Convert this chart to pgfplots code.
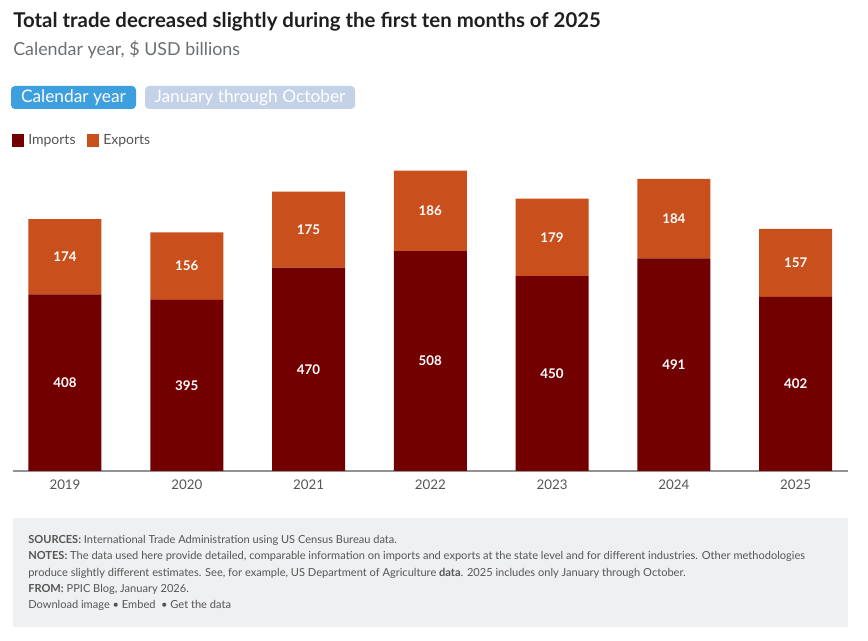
\documentclass[border=0pt]{standalone}
\usepackage{pgfplots}
\pgfplotsset{compat=1.18}
\usepackage{fontspec}
\setmainfont{Lato}
\definecolor{imp}{HTML}{730000}
\definecolor{exp}{HTML}{C9501C}
\definecolor{tickgray}{HTML}{555555}
\definecolor{subgray}{HTML}{6B6F75}
\definecolor{btnblue}{HTML}{3E9FDF}
\definecolor{btnlight}{HTML}{C3D2E6}
\definecolor{footbg}{HTML}{EFF0F2}
\definecolor{foottext}{HTML}{555555}

\pgfplotstableread{
x imports exports
0 408 174
1 395 156
2 470 175
3 508 186
4 450 179
5 491 184
6 402 157
}\tradedata

\begin{document}
\begin{tikzpicture}
\begin{scope}[x=0.75pt,y=-0.75pt]
  % page frame
  \path[fill=white] (0,0) rectangle (868,641);
  % title and subtitle
  \node[anchor=west,inner sep=0,font=\fontsize{15.3}{17}\selectfont\bfseries,text=black!88] at (13,22) {Total trade decreased slightly during the first ten months of 2025};
  \node[anchor=west,inner sep=0,font=\fontsize{13.4}{15}\selectfont,text=subgray] at (13,50) {Calendar year, \$ USD billions};
  % buttons
  \fill[btnblue,rounded corners=3pt] (11,86) rectangle (136,109);
  \node[text=white,inner sep=0,font=\fontsize{13}{15}\selectfont] at (73.5,97.5) {Calendar year};
  \fill[btnlight,rounded corners=3pt] (145,86) rectangle (355,109);
  \node[text=white,inner sep=0,font=\fontsize{13}{15}\selectfont] at (250,97.5) {January through October};
  % legend
  \fill[imp] (12,134) rectangle (24,147);
  \node[anchor=west,inner sep=0,text=tickgray,font=\fontsize{10.5}{12}\selectfont] at (28,140.5) {Imports};
  \fill[exp] (87,134) rectangle (99,147);
  \node[anchor=west,inner sep=0,text=tickgray,font=\fontsize{10.5}{12}\selectfont] at (103,140.5) {Exports};
  % footer
  \fill[footbg] (13,518) rectangle (848,627);
  \begin{scope}[every node/.style={anchor=west,inner sep=0,text=foottext,font=\fontsize{8.3}{9}\selectfont}]
    \node at (28,540) {\textbf{SOURCES:} International Trade Administration using US Census Bureau data.};
    \node at (28,556) {\textbf{NOTES:} The data used here provide detailed, comparable information on imports and exports at the state level and for different industries. Other methodologies};
    \node at (28,573) {produce slightly different estimates. See, for example, US Department of Agriculture \textbf{data}. 2025 includes only January through October.};
    \node at (28,589) {\textbf{FROM:} PPIC Blog, January 2026.};
    \node at (28,605) {Download image \textbullet{} Embed \ \textbullet{} Get the data};
  \end{scope}
\end{scope}

\begin{axis}[
  at={(9.75pt,-353.25pt)}, anchor=south west,
  scale only axis,
  width=626.25pt, height=227.3pt,
  ybar stacked, bar width=54.75pt,
  xmin=-0.427, xmax=6.43,
  ymin=0, ymax=700,
  axis x line=bottom, axis y line=none,
  x axis line style={-, draw=gray!85, line width=0.8pt},
  xtick=data,
  xticklabels={2019,2020,2021,2022,2023,2024,2025},
  major tick length=0pt,
  xticklabel style={text=tickgray, font=\fontsize{10}{12}\selectfont, yshift=-3pt},
  ytick=\empty,
  /pgf/number format/assume math mode=true,
  nodes near coords,
  every node near coord/.append style={anchor=center, text=white,
    font=\fontsize{10}{12}\selectfont\bfseries},
]
\addplot[fill=imp, draw=none] table[x=x, y=imports] {\tradedata};
\addplot[fill=exp, draw=none] table[x=x, y=exports] {\tradedata};
\end{axis}
\end{tikzpicture}
\end{document}
